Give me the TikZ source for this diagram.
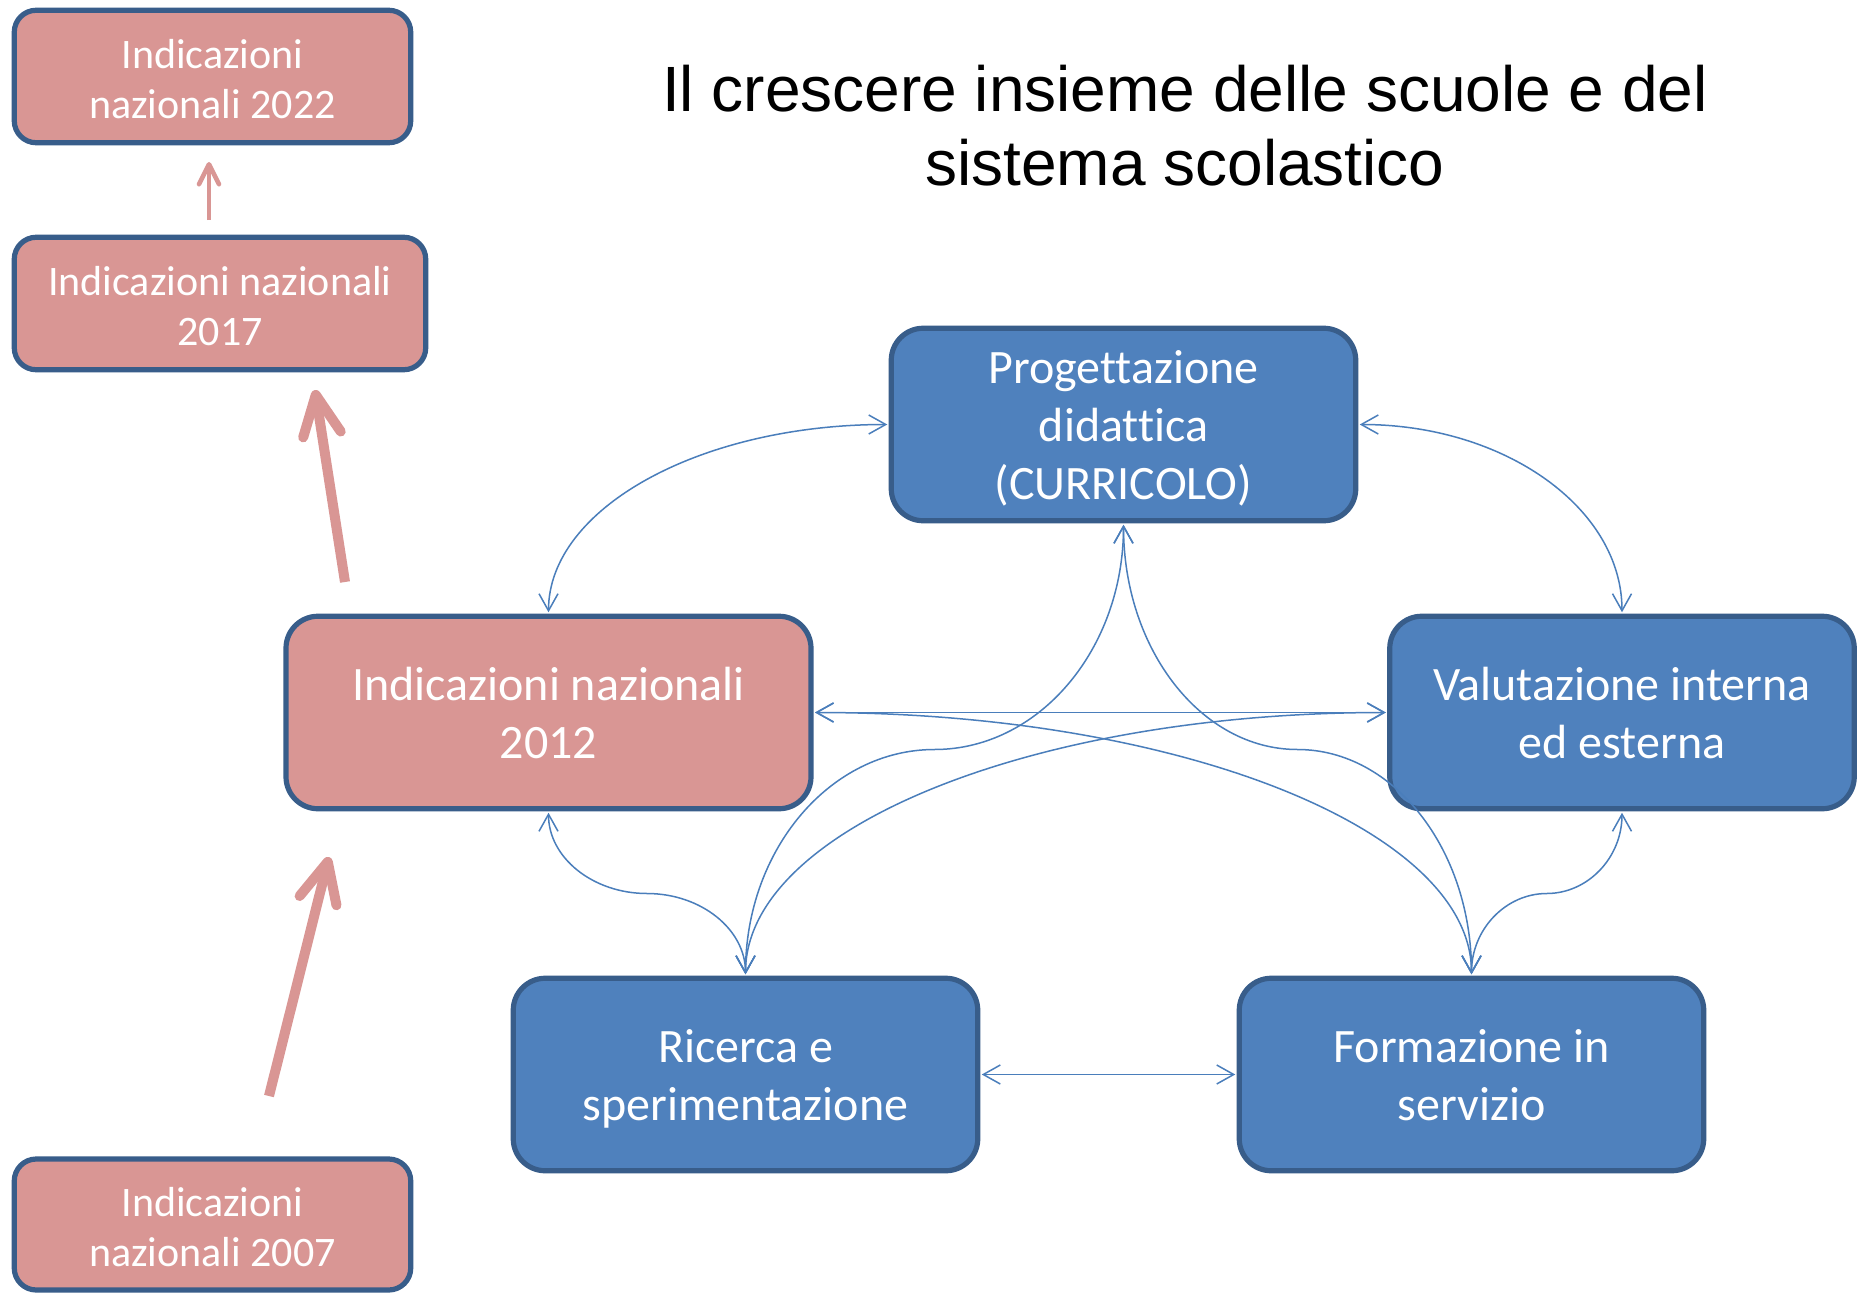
\documentclass[tikz,border=0pt]{standalone}
\usepackage{fontspec}
\setmainfont{Carlito}[Ligatures=NoCommon]
\newfontfamily\titlefont{Liberation Sans}
\usetikzlibrary{arrows.meta,calc}
\definecolor{pinkfill}{HTML}{D99694}
\definecolor{bluefill}{HTML}{4F81BD}
\definecolor{boxborder}{HTML}{385D8A}
\definecolor{linkblue}{HTML}{4A7EBB}
\newcommand\topBig{\rule{0pt}{0.97em}}
\newcommand\topSmall{\rule{0pt}{1.086em}}
\newcommand\botAll{\rule[-0.27em]{0pt}{0pt}}
\begin{document}
\begin{tikzpicture}[x=0.5pt,y=-0.5pt,
  box/.style={draw=boxborder, line width=2.6pt, text=white, align=center, inner sep=0pt, outer sep=2pt},
  bigbox/.style={box, minimum width=232.25pt, minimum height=96.25pt, rounded corners=16pt, font=\fontsize{24}{29}\selectfont},
  smallbox/.style={box, fill=pinkfill, minimum height=66.25pt, rounded corners=11pt, font=\fontsize{21}{25}\selectfont},
  link/.style={draw=linkblue, line width=0.75pt, {Straight Barb[length=8.5pt,width=9.5pt]}-{Straight Barb[length=8.5pt,width=9.5pt]}},
  bigpink/.style={draw=pinkfill, line width=5pt, -{Straight Barb[length=20pt,width=19pt,round]}},
  smallpink/.style={draw=pinkfill, line width=2.25pt, -{Straight Barb[length=10pt,width=10pt,round]}},
  titletext/.style={anchor=base, font=\titlefont\fontsize{32}{37.5}\selectfont}
]
\fill[white] (0,0) rectangle (1858,1295);
\useasboundingbox (0,0) rectangle (1858,1295);

% title
\node[titletext] (title1) at (1185,111.5) {Il crescere insieme delle scuole e del};
\node[titletext] (title2) at (1185,185.5) {sistema scolastico};

% left column
\node[smallbox, minimum width=198.25pt] (n2022) at (212.5,76.5) {\topSmall Indicazioni\\nazionali 2022\botAll};
\node[smallbox, minimum width=205.75pt] (n2017) at (220,303.5) {\topSmall Indicazioni nazionali\\2017\botAll};
\node[smallbox, minimum width=198.25pt, minimum height=65.5pt] (n2007) at (212.5,1224.5) {\topSmall Indicazioni\\nazionali 2007\botAll};

% main boxes
\node[bigbox, fill=pinkfill, minimum width=262.5pt] (n2012) at (548.5,712.5) {\topBig Indicazioni nazionali\\2012\botAll};
\node[bigbox, fill=bluefill] (prog) at (1123.5,424.5) {\topBig Progettazione\\didattica\\(CURRICOLO)\botAll};
\node[bigbox, fill=bluefill] (valu) at (1622,712.5) {\topBig Valutazione interna\\ed esterna\botAll};
\node[bigbox, fill=bluefill] (ric) at (745.5,1074.5) {\topBig Ricerca e\\sperimentazione\botAll};
\node[bigbox, fill=bluefill] (form) at (1471.5,1074.5) {\topBig Formazione in\\servizio\botAll};

% pink arrows
\coordinate (a1s) at (209,220); \coordinate (a1e) at (209,162);
\coordinate (a2s) at (345,582); \coordinate (a2e) at (315,390);
\coordinate (a3s) at (269,1096); \coordinate (a3e) at (329,857);
\draw[smallpink] (a1s) -- (a1e);
\draw[bigpink] (a2s) -- (a2e);
\draw[bigpink] (a3s) -- (a3e);

% connectors
\draw[link] (prog.west) .. controls +(-187,0) and +(0,-104) .. (n2012.north);
\draw[link] (prog.east) .. controls +(145,0) and +(0,-104) .. (valu.north);
\draw[link] (n2012.east) -- (valu.west);
\draw[link] (n2012.south) .. controls +(0,45) and +(-54,0) .. ($(n2012.south)!0.5!(ric.north)$) .. controls +(54,0) and +(0,-45) .. (ric.north);
\draw[link] (valu.south) .. controls +(0,45) and +(41,0) .. ($(valu.south)!0.5!(form.north)$) .. controls +(-41,0) and +(0,-45) .. (form.north);
\draw[link] (ric.east) -- (form.west);
\draw[link] (prog.south) .. controls +(0,125) and +(104,0) .. ($(prog.south)!0.5!(ric.north)$) .. controls +(-104,0) and +(0,-125) .. (ric.north);
\draw[link] (prog.south) .. controls +(0,125) and +(-96,0) .. ($(prog.south)!0.5!(form.north)$) .. controls +(96,0) and +(0,-125) .. (form.north);
\draw[link] (n2012.east) .. controls +(363,0) and +(0,-145) .. (form.north);
\draw[link] (valu.west) .. controls +(-355,0) and +(0,-145) .. (ric.north);
\end{tikzpicture}
\end{document}
